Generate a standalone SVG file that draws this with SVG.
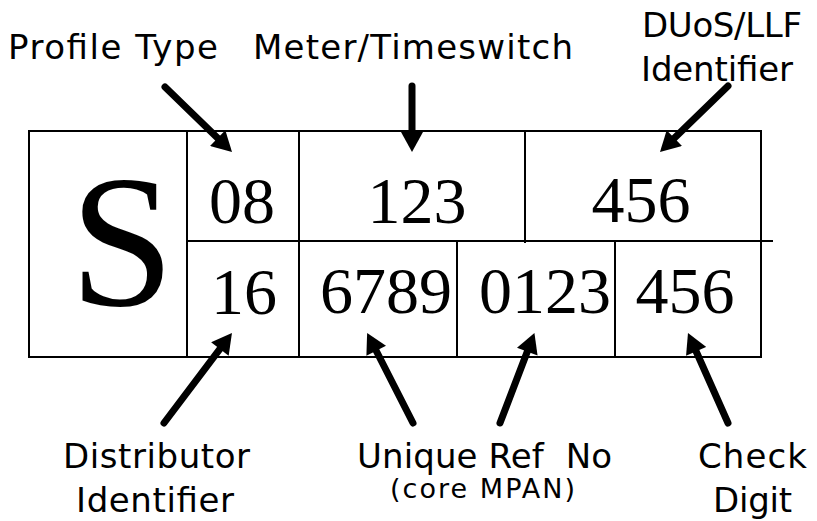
<svg xmlns="http://www.w3.org/2000/svg" width="817" height="521" viewBox="0 0 817 521">
<style>
.box{fill:none;stroke:#000;stroke-width:2}
.ln{stroke:#000;stroke-width:2}
.arr{stroke:#000;stroke-width:7;stroke-linecap:round;fill:none;marker-end:url(#ah)}
.lbl{font-family:"DejaVu Sans","Verdana",sans-serif;font-size:34px;fill:#000;white-space:pre}
.sm{font-family:"DejaVu Sans","Verdana",sans-serif;font-size:27px;fill:#000}
.num{font-family:"Liberation Serif","Times New Roman",serif;font-size:66px;fill:#000;text-anchor:middle}
.big{font-family:"Liberation Serif","Times New Roman",serif;font-size:188px;fill:#000;text-anchor:middle}
</style>
<defs>
<marker id="ah" markerUnits="userSpaceOnUse" markerWidth="22" markerHeight="22" viewBox="0 0 20 22" refX="2" refY="11" orient="auto">
<path d="M0,0 L20,11 L0,22 Z" fill="#000"/>
</marker>
</defs>
<g id="mpan-grid">
<rect class="box" x="29" y="131" width="732" height="226"/>
<line class="ln" x1="187" y1="131" x2="187" y2="357"/>
<line class="ln" x1="299" y1="131" x2="299" y2="357"/>
<line class="ln" x1="525" y1="131" x2="525" y2="243"/>
<line class="ln" x1="187" y1="241" x2="773" y2="241"/>
<line class="ln" x1="457" y1="241" x2="457" y2="357"/>
<line class="ln" x1="615" y1="241" x2="615" y2="357"/>
</g>
<g id="cell-s"><text class="big" x="122" y="305">S</text></g>
<g id="cell-profile"><text class="num" x="242" y="223">08</text></g>
<g id="cell-meter"><text class="num" x="417" y="223">123</text></g>
<g id="cell-llf"><text class="num" x="641" y="222">456</text></g>
<g id="cell-dist"><text class="num" x="244" y="314">16</text></g>
<g id="cell-ref1"><text class="num" x="386" y="313">6789</text></g>
<g id="cell-ref2"><text class="num" x="545" y="313">0123</text></g>
<g id="cell-check"><text class="num" x="685" y="313">456</text></g>
<g id="label-profile"><text class="lbl" x="8" y="59" textLength="210" lengthAdjust="spacing">Profile Type</text></g>
<g id="label-meter"><text class="lbl" x="253" y="59" textLength="320" lengthAdjust="spacing">Meter/Timeswitch</text></g>
<g id="label-duos">
<text class="lbl" x="642" y="37" textLength="160" lengthAdjust="spacing">DUoS/LLF</text>
<text class="lbl" x="641" y="81" textLength="152" lengthAdjust="spacing">Identifier</text>
</g>
<g id="label-dist">
<text class="lbl" x="63" y="468" textLength="187" lengthAdjust="spacing">Distributor</text>
<text class="lbl" x="76" y="512" textLength="158" lengthAdjust="spacing">Identifier</text>
</g>
<g id="label-ref">
<text class="lbl" x="357" y="468" textLength="255" lengthAdjust="spacing" xml:space="preserve">Unique Ref  No</text>
<text class="sm" x="390" y="498" textLength="185" lengthAdjust="spacing">(core MPAN)</text>
</g>
<g id="label-check">
<text class="lbl" x="698" y="468" textLength="109" lengthAdjust="spacing">Check</text>
<text class="lbl" x="713" y="512" textLength="79" lengthAdjust="spacing">Digit</text>
</g>
<g id="connectors">
<line class="arr" x1="165" y1="87" x2="219.1" y2="139.5"/>
<line class="arr" x1="412" y1="86" x2="412" y2="134"/>
<line class="arr" x1="728" y1="86" x2="672.9" y2="139.5"/>
<line class="arr" x1="164" y1="423" x2="221.1" y2="347.4"/>
<line class="arr" x1="413" y1="423" x2="375.3" y2="349"/>
<line class="arr" x1="500" y1="423" x2="528" y2="349.8"/>
<line class="arr" x1="728" y1="423" x2="695.3" y2="349.5"/>
</g>
</svg>
